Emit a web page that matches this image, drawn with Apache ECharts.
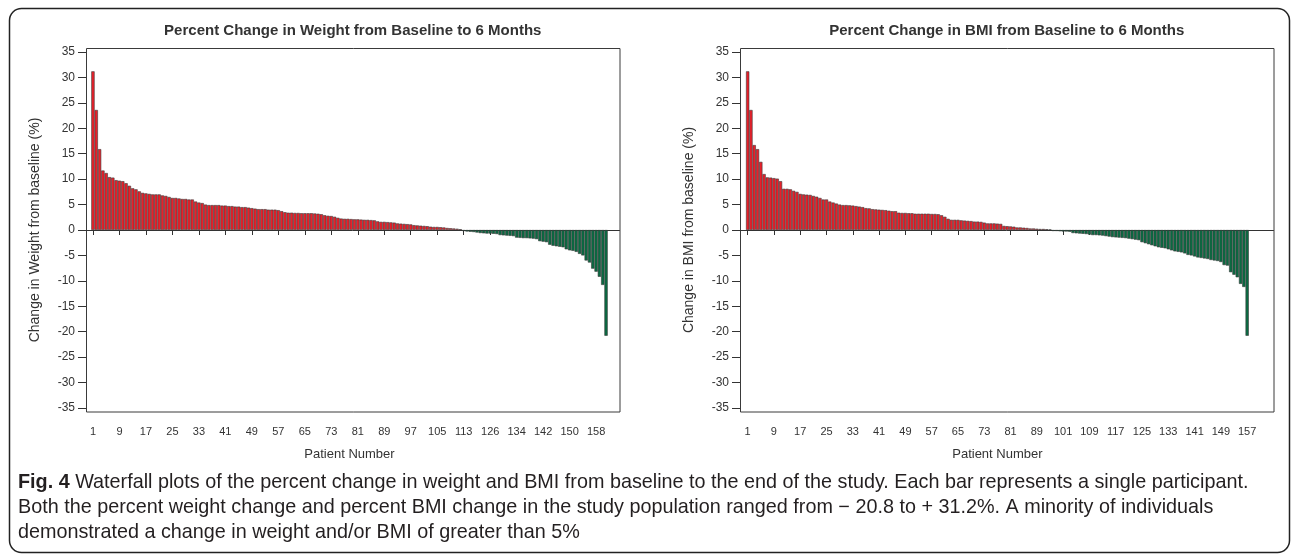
<!DOCTYPE html>
<html>
<head>
<meta charset="utf-8">
<script src="https://cdn.jsdelivr.net/npm/echarts@6/dist/echarts.min.js"></script>
<style>
  html, body { margin: 0; padding: 0; background: #fff; }
  #container { width: 1292px; height: 557px; }
</style>
</head>
<body>
<div id="container"></div>
<script>
// patient numbers on the x axis (gaps in the numbering)
var weightPatientRanges = [[1, 116], [122, 161]];
var bmiPatientRanges = [[1, 92], [97, 157]];

// percent change in weight, sorted (one value per patient)
var weightChange = [
    31.2, 23.6, 15.9, 11.7, 11.2, 10.4, 10.3, 9.8, 9.7, 9.6,
    9.2, 8.7, 8.2, 8.0, 7.6, 7.3, 7.2, 7.1, 7.0, 7.0,
    7.0, 6.8, 6.7, 6.5, 6.3, 6.3, 6.2, 6.1, 6.1, 6.0,
    6.0, 5.6, 5.4, 5.3, 5.0, 4.9, 4.9, 4.9, 4.9, 4.8,
    4.8, 4.7, 4.7, 4.6, 4.6, 4.5, 4.5, 4.4, 4.3, 4.2,
    4.1, 4.1, 4.1, 4.0, 4.0, 4.0, 3.9, 3.7, 3.5, 3.4,
    3.4, 3.35, 3.35, 3.3, 3.3, 3.3, 3.3, 3.25, 3.2, 3.1,
    2.9, 2.8, 2.75, 2.6, 2.4, 2.25, 2.2, 2.2, 2.15, 2.1,
    2.1, 2.05, 2.0, 2.0, 1.95, 1.9, 1.7, 1.6, 1.6, 1.55,
    1.5, 1.45, 1.3, 1.25, 1.2, 1.15, 1.1, 0.95, 0.9, 0.85,
    0.8, 0.75, 0.65, 0.6, 0.6, 0.55, 0.5, 0.4, 0.35, 0.3, 0.25, 0.15,
    -0.2, -0.3, -0.35, -0.4, -0.5,
    -0.6, -0.65, -0.7, -0.7, -0.75, -0.8,
    -1.0, -1.05, -1.1, -1.15, -1.2,
    -1.5, -1.55, -1.6, -1.6, -1.65, -1.7, -1.8,
    -2.2, -2.3, -2.4,
    -2.9, -3.1, -3.2, -3.3, -3.4,
    -3.8, -4.0, -4.1, -4.3,
    -4.7, -5.0, -6.0, -6.4, -7.6, -8.2,
    -9.2, -10.8, -20.8
];

// percent change in BMI, sorted
var bmiChange = [
    31.2, 23.6, 16.7, 15.9, 13.4, 11.0, 10.35, 10.3, 10.2, 10.1,
    9.6, 8.1, 8.1, 8.0, 7.7, 7.5, 7.1, 7.0, 6.95, 6.9,
    6.7, 6.55, 6.3, 6.0, 6.0, 5.6, 5.4, 5.2, 5.0, 4.9,
    4.9, 4.85, 4.8, 4.7, 4.6, 4.5, 4.3, 4.25, 4.1, 4.05,
    4.0, 3.95, 3.9, 3.8, 3.7, 3.7, 3.4, 3.35, 3.35, 3.3,
    3.3, 3.2, 3.2, 3.2, 3.2, 3.2, 3.15, 3.15, 3.1, 2.9,
    2.6, 2.2, 2.0, 2.0, 2.0, 1.9, 1.85, 1.8, 1.75, 1.65,
    1.65, 1.6, 1.45, 1.3, 1.3, 1.3, 1.25, 1.2, 0.8, 0.75,
    0.7, 0.65, 0.5, 0.5, 0.45, 0.4, 0.3, 0.3, 0.25, 0.2, 0.2, 0.15, 0.1,
    -0.2, -0.2, -0.25, -0.3, -0.3, -0.35,
    -0.6, -0.65, -0.7, -0.75, -0.8,
    -0.9, -1.0, -1.0, -1.05, -1.1, -1.2,
    -1.3, -1.4, -1.45, -1.5, -1.55, -1.6, -1.7,
    -1.8, -1.9, -2.0,
    -2.4, -2.6, -2.8, -3.0,
    -3.2, -3.4, -3.5, -3.6, -3.8,
    -4.0, -4.2, -4.3, -4.4, -4.6,
    -4.9, -5.0, -5.2, -5.4,
    -5.5, -5.6, -5.7, -5.9,
    -6.0, -6.1, -6.3,
    -6.9, -7.0, -8.3, -8.8,
    -9.3, -10.6, -11.2, -20.8
];

var yTicks = [-35, 35, 5]; // min, max, step

var titles = ['Percent Change in Weight from Baseline to 6 Months', 'Percent Change in BMI from Baseline to 6 Months'];
var yNames = ['Change in Weight from baseline (%)', 'Change in BMI from baseline (%)'];

function expand(ranges) {
    var out = [];
    ranges.forEach(function (r) {
        for (var n = r[0]; n <= r[1]; n++) out.push(String(n));
    });
    return out;
}

var RED = '#e8202a', GREEN = '#0a6a42', INK = '#333';
var sans = '"Liberation Sans", Arial, sans-serif';

var myChart = echarts.init(document.getElementById('container'));

// frame grid (y axis + zero line) and inner bar grid, per panel
var panels = [
    {frameLeft: 86, barLeft: 91.3, barWidth: 516.4, cats: expand(weightPatientRanges), data: weightChange},
    {frameLeft: 740, barLeft: 746, barWidth: 502.8, cats: expand(bmiPatientRanges), data: bmiChange}
];
var FRAME_W = 533.5;

var grid = [], xAxis = [], yAxis = [], series = [], title = [], graphic = [];

panels.forEach(function (p, i) {
    var gA = grid.length, gB = gA + 1;
    grid.push({left: p.frameLeft, top: 52, width: FRAME_W, height: 356});
    grid.push({left: p.barLeft, top: 52, width: p.barWidth, height: 356});

    xAxis.push({
        gridIndex: gA, type: 'value', min: 0, max: 1,
        axisLine: {show: true, onZero: true, lineStyle: {color: INK, width: 1}},
        axisTick: {show: false}, axisLabel: {show: false}, splitLine: {show: false}
    });
    xAxis.push({
        gridIndex: gB, type: 'category', data: p.cats, offset: 4,
        axisLine: {show: false},
        axisTick: {show: true, alignWithLabel: true, interval: 7, length: 5, lineStyle: {color: INK}},
        axisLabel: {interval: 7, margin: 14, color: INK, fontSize: 11, fontFamily: sans},
        name: 'Patient Number', nameLocation: 'middle', nameGap: 36,
        nameTextStyle: {color: INK, fontSize: 13, fontFamily: sans}
    });
    yAxis.push({
        gridIndex: gA, type: 'value', min: yTicks[0], max: yTicks[1], interval: yTicks[2],
        axisLine: {show: false},
        axisTick: {show: true, length: 8, lineStyle: {color: INK}},
        axisLabel: {margin: 11, color: INK, fontSize: 12, fontFamily: sans},
        splitLine: {show: false},
        name: yNames[i], nameLocation: 'middle', nameGap: 44,
        nameTextStyle: {color: INK, fontSize: 14, fontFamily: sans}
    });
    yAxis.push({gridIndex: gB, type: 'value', min: yTicks[0], max: yTicks[1], show: false});

    series.push({
        type: 'bar', xAxisIndex: gB, yAxisIndex: gB,
        data: p.data, barCategoryGap: '0%', animation: false,
        itemStyle: {
            color: function (params) { return params.value >= 0 ? RED : GREEN; },
            borderColor: '#3a3a3a', borderWidth: 0.6
        }
    });

    title.push({
        text: titles[i], left: p.frameLeft + FRAME_W / 2, top: 23, textAlign: 'center', padding: 0,
        textStyle: {fontSize: 15, fontWeight: 'bold', color: INK, fontFamily: sans}
    });

    graphic.push({
        type: 'rect', silent: true,
        shape: {x: p.frameLeft + 0.5, y: 48.5, width: FRAME_W, height: 363.5},
        style: {fill: 'none', stroke: '#3a3a3a', lineWidth: 1}
    });
});

graphic.push({
    type: 'rect', silent: true,
    shape: {x: 9.5, y: 8.5, width: 1280, height: 544, r: 12},
    style: {fill: 'none', stroke: '#222', lineWidth: 1.5}
});
graphic.push({
    type: 'text', left: 18, top: 470,
    style: {
        text: '{b|Fig. 4} Waterfall plots of the percent change in weight and BMI from baseline to the end of the study. Each bar represents a single participant.\n' +
              'Both the percent weight change and percent BMI change in the study population ranged from \u2212 20.8 to + 31.2%. A minority of individuals\n' +
              'demonstrated a change in weight and/or BMI of greater than 5%',
        font: '19.8px ' + sans,
        fill: '#231f20',
        lineHeight: 25,
        rich: {
            b: {fontWeight: 'bold', fontSize: 19.8, fontFamily: sans, fill: '#231f20', lineHeight: 25}
        }
    }
});

myChart.setOption({
    animation: false,
    title: title,
    grid: grid,
    xAxis: xAxis,
    yAxis: yAxis,
    series: series,
    graphic: graphic
});
</script>
</body>
</html>
